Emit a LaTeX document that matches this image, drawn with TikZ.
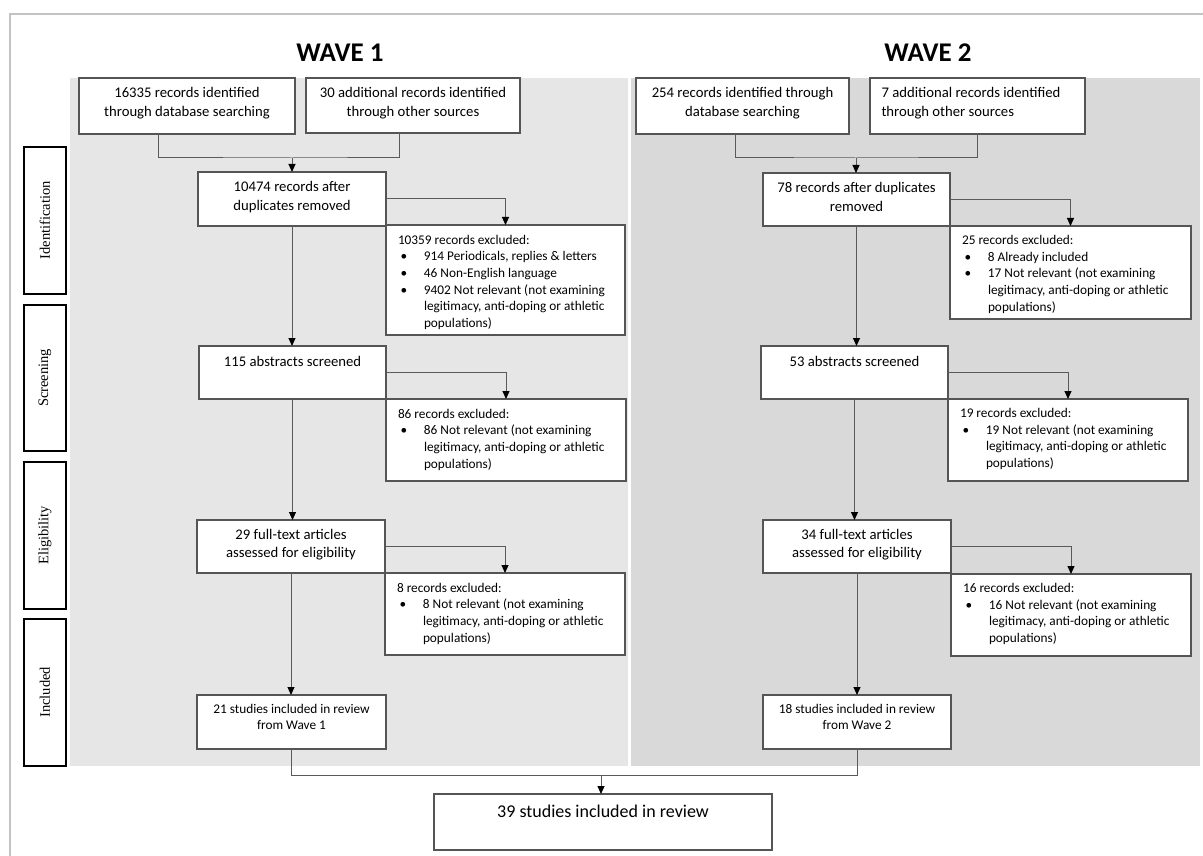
\documentclass[tikz,border=0pt]{standalone}
\usepackage{fontspec}
\setmainfont{Carlito}
\newfontfamily\sidefont{Liberation Serif}
\usetikzlibrary{arrows.meta,calc}
\definecolor{panelA}{HTML}{E6E6E6}
\definecolor{panelB}{HTML}{D9D9D9}
\definecolor{frameC}{HTML}{C3C3C3}
\definecolor{boxC}{HTML}{555555}
\definecolor{connC}{HTML}{5A5A5A}
% text formats inside boxes
\newcommand\mtext[2]{\fontsize{14.7}{18.4}\selectfont\parindent=0pt\centering\rule{0pt}{#1pt}#2\par}
\newcommand\ltext[2]{\fontsize{14.7}{18.4}\selectfont\parindent=0pt\raggedright\leftskip=11.5pt\rule{0pt}{#1pt}#2\par}
\newcommand\stext[2]{\fontsize{13.3}{16.4}\selectfont\parindent=0pt\centering\rule{0pt}{#1pt}#2\par}
\newcommand\btext[2]{\fontsize{18}{22}\selectfont\parindent=0pt\centering\rule{0pt}{#1pt}#2\par}
\newcommand\xhead[2]{\fontsize{13.3}{16.6}\selectfont\parindent=0pt\raggedright\leftskip=12pt\rule{0pt}{#1pt}#2\par}
\newcommand\xitem[1]{\hangindent=26pt\hangafter=1\noindent\makebox[26pt][l]{\hspace{2.5pt}\textbullet}#1\par}
\newcommand\flowbox[6]{\node[box] (#1) at (#2,#3) {\parbox[t][\dimexpr #5pt-#3pt\relax][t]{\dimexpr #4pt-#2pt\relax}{#6}};}
\begin{document}
\begin{tikzpicture}[x=1pt,y=-1pt,
  box/.style={draw=boxC, line width=1.2pt, fill=white, inner sep=0pt, outer sep=0pt, anchor=north west},
  sidelab/.style={draw=black, line width=1.8pt, fill=white, inner sep=0pt, anchor=north west, minimum width=42pt, font=\sidefont\fontsize{14.5}{16}\selectfont},
  wavetitle/.style={font=\fontsize{27}{30}\selectfont\bfseries, inner sep=0pt},
  conn/.style={draw=connC, line width=1pt},
  arr/.style={conn, -{Triangle[length=8pt,width=7pt,color=black]}},
  frame/.style={draw=frameC, line width=2.5pt}]
\useasboundingbox (0,0) rectangle (1203,856);
\fill[white] (0,0) rectangle (1203,856);
% outer frame (top and left edges visible)
\draw[frame] (10,856) -- (10,14) -- (1203,14);
% panels
\fill[panelA] (70,78) rectangle (628,766);
\fill[panelB] (631,78) rectangle (1200,766);
% titles
\node[wavetitle] (w1) at (340,53) {WAVE 1};
\node[wavetitle] (w2) at (928,53) {WAVE 2};
% side labels
\node[sidelab, minimum height=147pt] (sid) at (23,146) {\rotatebox{90}{Identification}};
\node[sidelab, minimum height=146pt] (sscr) at (23,304) {\rotatebox{90}{Screening}};
\node[sidelab, minimum height=147pt] (selg) at (23,461) {\rotatebox{90}{Eligibility}};
\node[sidelab, minimum height=147pt] (sinc) at (23,618) {\rotatebox{90}{Included}};
% wave 1 boxes
\flowbox{a1}{79}{78}{295}{134}{\mtext{19.7}{16335 records identified\\through database searching}}
\flowbox{a2}{306}{78}{520}{133}{\mtext{19.7}{30 additional records identified\\through other sources}}
\flowbox{b1}{198}{172}{386}{226}{\mtext{20}{10474 records after\\duplicates removed}}
\flowbox{c1}{386}{225}{625}{335}{\xhead{19.3}{10359 records excluded:}\xitem{914 Periodicals, replies \& letters}\xitem{46 Non-English language}\xitem{9402 Not relevant (not examining\newline legitimacy, anti-doping or athletic\newline populations)}}
\flowbox{b2}{199}{346}{386}{399}{\mtext{20}{115 abstracts screened}}
\flowbox{c2}{386}{399}{626}{481}{\xhead{19.3}{86 records excluded:}\xitem{86 Not relevant (not examining\newline legitimacy, anti-doping or athletic\newline populations)}}
\flowbox{b3}{197}{520}{385}{573}{\mtext{19.4}{29 full-text articles\\assessed for eligibility}}
\flowbox{c3}{385}{573}{625}{655}{\xhead{19.3}{8 records excluded:}\xitem{8 Not relevant (not examining\newline legitimacy, anti-doping or athletic\newline populations)}}
\flowbox{b4}{197}{695}{386}{749}{\stext{18.3}{21 studies included in review\\from Wave 1}}
% wave 2 boxes
\flowbox{d1}{636}{78}{849}{134}{\mtext{19.7}{254 records identified through\\database searching}}
\flowbox{d2}{870}{78}{1085}{134}{\ltext{19.7}{7 additional records identified\\through other sources}}
\flowbox{e1}{763}{173}{950}{226}{\mtext{19.7}{78 records after duplicates\\removed}}
\flowbox{f1}{950}{226}{1191}{319}{\xhead{18.7}{25 records excluded:}\xitem{8 Already included}\xitem{17 Not relevant (not examining\newline legitimacy, anti-doping or athletic\newline populations)}}
\flowbox{e2}{761}{346}{948}{399}{\mtext{20}{53 abstracts screened}}
\flowbox{f2}{948}{399}{1188}{481}{\xhead{18.7}{19 records excluded:}\xitem{19 Not relevant (not examining\newline legitimacy, anti-doping or athletic\newline populations)}}
\flowbox{e3}{763}{520}{951}{573}{\mtext{19.4}{34 full-text articles\\assessed for eligibility}}
\flowbox{f3}{951}{574}{1191}{656}{\xhead{18.7}{16 records excluded:}\xitem{16 Not relevant (not examining\newline legitimacy, anti-doping or athletic\newline populations)}}
\flowbox{e4}{763}{695}{951}{749}{\stext{18.3}{18 studies included in review\\from Wave 2}}
% final box
\flowbox{fin}{434}{794}{772}{850}{\btext{23.3}{39 studies included in review}}
% junction coordinates
\coordinate (j1) at (292,158);
\coordinate (j2) at (856,158);
\coordinate (j3) at (601,775);
% wave 1 connectors
\draw[conn] ($(a1.south west)!0.366!(a1.south east)$) |- (j1) -| ($(a2.south west)!0.435!(a2.south east)$);
\draw[arr] (j1) -- (j1 |- b1.north);
\draw[arr] (b1.east) -| (c1.north);
\draw[arr] (b1.south) -- (b1.south |- b2.north);
\draw[arr] (b2.east) -| (c2.north);
\draw[arr] (b2.south) -- (b2.south |- b3.north);
\draw[arr] (b3.east) -| (c3.north);
\draw[arr] (b3.south) -- (b3.south |- b4.north);
% wave 2 connectors
\draw[conn] ($(d1.south west)!0.465!(d1.south east)$) |- (j2) -| ($(d2.south west)!0.498!(d2.south east)$);
\draw[arr] (j2) -- (j2 |- e1.north);
\draw[arr] (e1.east) -| (f1.north);
\draw[arr] (e1.south) -- (e1.south |- e2.north);
\draw[arr] (e2.east) -| (f2.north);
\draw[arr] (e2.south) -- (e2.south |- e3.north);
\draw[arr] (e3.east) -| (f3.north);
\draw[arr] (e3.south) -- (e3.south |- e4.north);
% merge to final
\draw[conn] (b4.south) |- (e4.south |- j3) -- (e4.south);
\draw[arr] (j3) -- (j3 |- fin.north);
\end{tikzpicture}
\end{document}
